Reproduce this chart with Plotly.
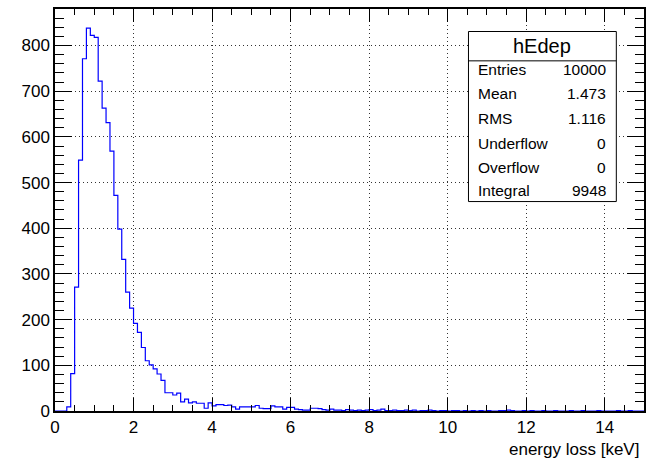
import numpy as np
import plotly.graph_objects as go

# ---------------- data ----------------
bin_low = 0.0
bin_width = 0.1
counts = [
    0, 0, 0, 9, 82, 271, 549, 771, 838, 822,
    818, 722, 663, 631, 569, 472, 398, 332, 260, 225,
    192, 172, 139, 110, 101, 92, 81, 67, 40, 40,
    35, 39, 20, 26, 18, 20, 17, 17, 6, 18,
    11, 14, 14, 12, 13, 9, 4, 9, 9, 9,
    9, 12, 6, 5, 5, 11, 9, 9, 4, 8,
    8, 4, 3, 2, 2, 6, 6, 5, 3, 2,
    4, 2, 2, 1, 3, 2, 1, 2, 1, 2,
    3, 1, 2, 4, 1, 1, 2, 1, 1, 2,
    1, 2, 0, 1, 1, 2, 1, 0, 1, 1,
    0, 1, 1, 0, 1, 0, 1, 0, 1, 0,
    1, 0, 0, 1, 1, 2, 1, 0, 0, 1,
    0, 1, 0, 0, 1, 0, 0, 1, 0, 0,
    0, 1, 0, 0, 1, 0, 0, 0, 1, 0,
    0, 0, 0, 1, 0, 0, 1, 0, 0, 0,
]
x_ticks = [0, 2, 4, 6, 8, 10, 12, 14]
y_ticks = [0, 100, 200, 300, 400, 500, 600, 700, 800]
x_title = "energy loss [keV]"
stat_title = "hEdep"
stat_names = ["Entries", "Mean", "RMS", "Underflow", "Overflow", "Integral"]
stat_values = ["10000", "1.473", "1.116", "0", "0", "9948"]

# ---------------- figure ----------------
edges = bin_low + bin_width * np.arange(len(counts) + 1)
step_y = list(counts) + [counts[-1]]
x_max = float(edges[-1])
y_max = max(counts) * 1.05

FONT = "Liberation Sans, Arial, sans-serif"

fig = go.Figure()
fig.add_trace(go.Scatter(
    x=edges, y=step_y, mode="lines", line_shape="hv",
    line=dict(color="#0000ff", width=1.2), showlegend=False, hoverinfo="skip",
))

axis_common = dict(
    showline=True, linecolor="black", linewidth=1.5, mirror="allticks",
    ticks="inside", tickcolor="black", tickwidth=1,
    showgrid=True, gridcolor="rgba(0,0,0,0.8)", griddash="1px,3px", gridwidth=1,
    zeroline=False, tickfont=dict(family=FONT, size=17, color="black"),
)

fig.update_xaxes(
    range=[bin_low, x_max], tickvals=x_ticks, ticklen=13,
    minor=dict(dtick=0.5, tick0=0, ticks="inside", ticklen=6, tickcolor="black", showgrid=False),
    **axis_common,
)
fig.update_yaxes(
    range=[0, y_max], tickvals=y_ticks, ticklen=17,
    minor=dict(dtick=20, tick0=0, ticks="inside", ticklen=9, tickcolor="black", showgrid=False),
    **axis_common,
)

# stats box
bx0, bx1, by0, by1, bsep = 0.702, 0.953, 0.521, 0.944, 0.871
fig.add_shape(type="rect", xref="paper", yref="paper", x0=bx0, x1=bx1, y0=by0, y1=by1,
              line=dict(color="black", width=1), fillcolor="white", layer="above")
fig.add_shape(type="line", xref="paper", yref="paper", x0=bx0, x1=bx1, y0=bsep, y1=bsep,
              line=dict(color="black", width=1), layer="above")
fig.add_annotation(xref="paper", yref="paper", x=(bx0 + bx1) / 2, y=(by1 + bsep) / 2,
                   text=stat_title, showarrow=False, xanchor="center", yanchor="middle",
                   font=dict(family=FONT, size=20, color="black"))
row_y = [0.849, 0.789, 0.728, 0.666, 0.606, 0.549]
for name, val, yy in zip(stat_names, stat_values, row_y):
    fig.add_annotation(xref="paper", yref="paper", x=0.715, y=yy, text=name,
                       showarrow=False, xanchor="left", yanchor="middle",
                       font=dict(family=FONT, size=15.5, color="black"))
    fig.add_annotation(xref="paper", yref="paper", x=0.939, y=yy, text=val,
                       showarrow=False, xanchor="right", yanchor="middle",
                       font=dict(family=FONT, size=15.5, color="black"))

# x axis title, right aligned
fig.add_annotation(xref="paper", yref="paper", x=0.995, y=-0.095, text=x_title,
                   showarrow=False, xanchor="right", yanchor="middle",
                   font=dict(family=FONT, size=17, color="black"))

fig.update_layout(
    width=649, height=462,
    margin=dict(l=55, r=3, t=9, b=51),
    paper_bgcolor="white", plot_bgcolor="white",
    font=dict(family=FONT),
)

fig.write_html("out.html")
